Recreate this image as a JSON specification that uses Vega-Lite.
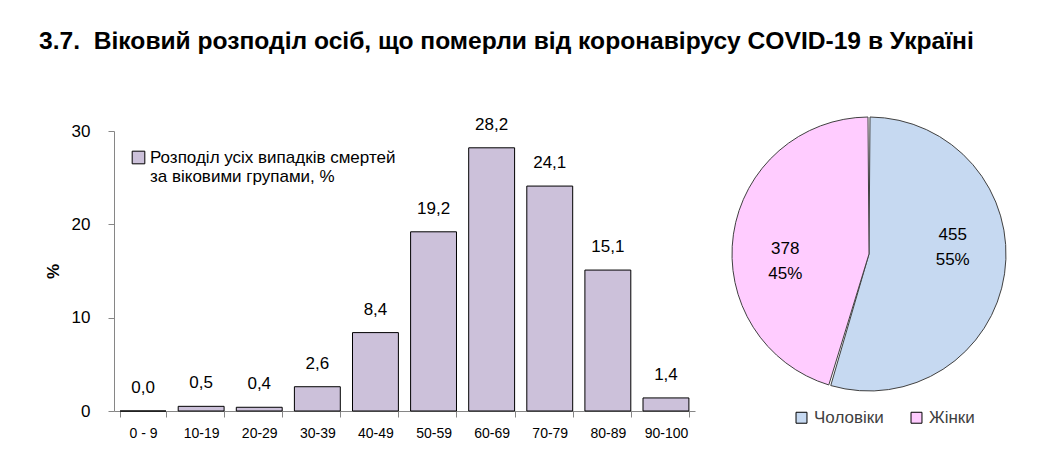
{
  "$schema": "https://vega.github.io/schema/vega-lite/v6.json",
  "padding": {"left": 39, "top": 29, "right": 5, "bottom": 5},
  "background": "white",
  "config": {
    "font": "Liberation Sans",
    "view": {"stroke": null},
    "concat": {"spacing": 24}
  },
  "resolve": {"scale": {"color": "independent"}, "legend": {"color": "independent"}},
  "title": {
    "text": "3.7.\u00a0\u00a0Віковий розподіл осіб, що померли від коронавірусу COVID-19 в Україні",
    "anchor": "start",
    "fontSize": 24.6,
    "fontWeight": "bold",
    "font": "Liberation Sans",
    "color": "#000000",
    "dx": -5,
    "offset": 60
  },
  "datasets": {
    "ages": [
      {"group": "0 - 9", "value": 0.0},
      {"group": "10-19", "value": 0.5},
      {"group": "20-29", "value": 0.4},
      {"group": "30-39", "value": 2.6},
      {"group": "40-49", "value": 8.4},
      {"group": "50-59", "value": 19.2},
      {"group": "60-69", "value": 28.2},
      {"group": "70-79", "value": 24.1},
      {"group": "80-89", "value": 15.1},
      {"group": "90-100", "value": 1.4}
    ],
    "sex": [
      {"sex": "Чоловіки", "n": 455, "ord": 1},
      {"sex": "Жінки", "n": 378, "ord": 2}
    ]
  },
  "hconcat": [
    {
      "width": 581,
      "height": 280,
      "data": {"name": "ages"},
      "transform": [
        {"calculate": "replace(format(datum.value, '.1f'), '.', ',')", "as": "lbl"}
      ],
      "encoding": {
        "x": {
          "field": "group",
          "type": "nominal",
          "sort": null,
          "scale": {"paddingInner": 0.21},
          "axis": {
            "title": null,
            "labelAngle": 0,
            "labelFontSize": 14,
            "labelColor": "#000000",
            "labelPadding": 9,
            "tickBand": "extent",
            "tickSize": 6,
            "tickColor": "#868686",
            "domainColor": "#868686"
          }
        },
        "y": {
          "field": "value",
          "type": "quantitative",
          "scale": {"domain": [0, 30]},
          "axis": {
            "title": "%",
            "titleFontSize": 17,
            "titleFontWeight": "bold",
            "titleColor": "#000000",
            "titlePadding": 9,
            "values": [0, 10, 20, 30],
            "grid": false,
            "labelFontSize": 17,
            "labelColor": "#000000",
            "labelPadding": 18,
            "tickSize": 6,
            "tickColor": "#868686",
            "domainColor": "#868686"
          }
        }
      },
      "layer": [
        {
          "mark": {"type": "bar", "stroke": "#000000", "strokeWidth": 1},
          "encoding": {
            "color": {
              "datum": "Розподіл усіх випадків смертей за віковими групами, %",
              "scale": {"range": ["#CCC1DA"]},
              "legend": {
                "title": null,
                "orient": "none",
                "legendX": 16,
                "legendY": 18,
                "symbolType": "square",
                "symbolSize": 160,
                "symbolStrokeColor": "#000000",
                "symbolStrokeWidth": 1,
                "labelFontSize": 17,
                "labelColor": "#000000",
                "labelLimit": 400,
                "labelBaseline": "middle",
                "labelOffset": 3,
                "labelExpr": "['Розподіл усіх випадків смертей', 'за віковими групами, %']"
              }
            }
          }
        },
        {
          "mark": {"type": "text", "dy": -14, "fontSize": 17, "color": "#000000", "baseline": "bottom"},
          "encoding": {"text": {"field": "lbl"}}
        }
      ]
    },
    {
      "width": 300,
      "height": 246,
      "data": {"name": "sex"},
      "transform": [
        {"joinaggregate": [{"op": "sum", "field": "n", "as": "total"}]},
        {"calculate": "[format(datum.n, 'd'), format(datum.n / datum.total, '.0%')]", "as": "lbl"}
      ],
      "encoding": {
        "theta": {"field": "n", "type": "quantitative", "stack": true},
        "order": {"field": "ord", "type": "quantitative"}
      },
      "layer": [
        {
          "mark": {"type": "arc", "radius": 137, "stroke": "#404040", "strokeWidth": 1, "padAngle": 0.015},
          "encoding": {
            "color": {
              "field": "sex",
              "type": "nominal",
              "sort": ["Чоловіки", "Жінки"],
              "scale": {"domain": ["Чоловіки", "Жінки"], "range": ["#C6D9F1", "#FFCCFF"]},
              "legend": {
                "title": null,
                "orient": "none",
                "legendX": 74,
                "legendY": 278,
                "direction": "horizontal",
                "symbolType": "square",
                "symbolSize": 120,
                "symbolStrokeColor": "#000000",
                "symbolStrokeWidth": 1,
                "labelFontSize": 17,
                "labelColor": "#404040",
                "columnPadding": 24
              }
            }
          }
        },
        {
          "mark": {"type": "text", "radius": 84, "thetaOffset": -0.23, "dy": -12, "fontSize": 17, "color": "#000000", "lineHeight": 25},
          "encoding": {"text": {"field": "lbl"}}
        }
      ]
    }
  ]
}
